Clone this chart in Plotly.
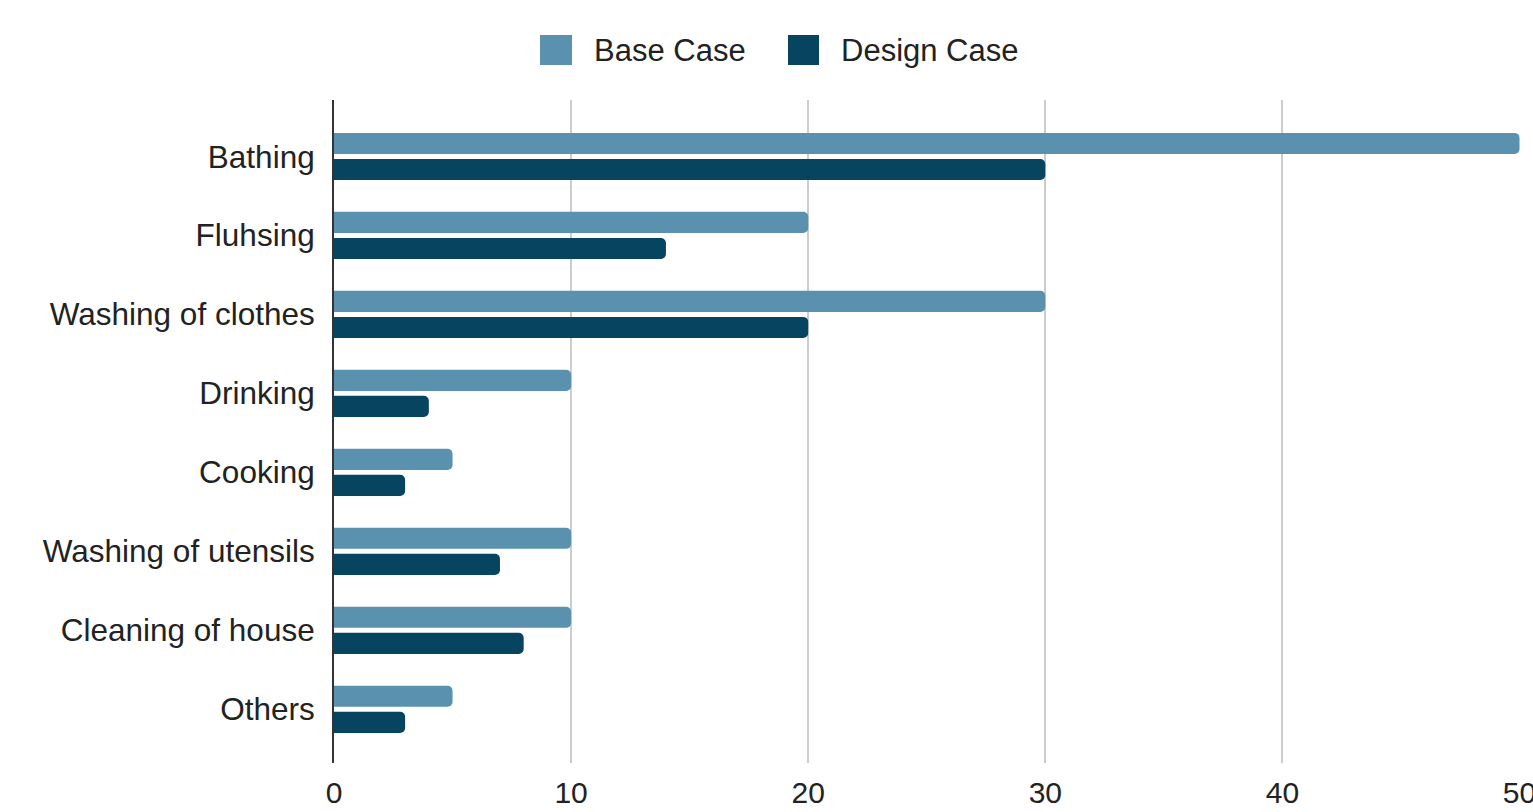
import plotly.graph_objects as go

categories = ["Bathing", "Fluhsing", "Washing of clothes", "Drinking", "Cooking",
              "Washing of utensils", "Cleaning of house", "Others"]
base_case = [50, 20, 30, 10, 5, 10, 10, 5]
design_case = [30, 14, 20, 4, 3, 7, 8, 3]
series_names = ["Base Case", "Design Case"]
x_ticks = [0, 10, 20, 30, 40, 50]

BASE_COLOR = "#5a91ae"
DESIGN_COLOR = "#07445f"
FONT = "Liberation Sans, Arial, sans-serif"
TEXT = "#222222"

W, H = 1533, 812
PL, PR, PT, PB = 334, 1520, 100, 763

fig = go.Figure()
fig.add_trace(go.Bar(y=categories, x=base_case, name=series_names[0], orientation="h",
                     marker=dict(color=BASE_COLOR, line=dict(width=0)), showlegend=False))
fig.add_trace(go.Bar(y=categories, x=design_case, name=series_names[1], orientation="h",
                     marker=dict(color=DESIGN_COLOR, line=dict(width=0)), showlegend=False))

# manual legend (large squares)
legend_items = [(540, 572, 592, series_names[0], BASE_COLOR),
                (788, 819, 839, series_names[1], DESIGN_COLOR)]


def px(x):
    return (x - PL) / (PR - PL)


def py(y):
    return (PB - y) / (PB - PT)


shapes = []
annotations = []
for x0, x1, tx, name, col in legend_items:
    shapes.append(dict(type="rect", xref="paper", yref="paper",
                       x0=px(x0), x1=px(x1), y0=py(65), y1=py(35),
                       fillcolor=col, line=dict(width=0), layer="above"))
    annotations.append(dict(xref="paper", yref="paper", x=px(tx), y=py(50),
                            xanchor="left", yanchor="middle", showarrow=False,
                            text=name, font=dict(family=FONT, size=31, color=TEXT)))

fig.update_layout(
    width=W, height=H,
    margin=dict(l=PL, r=W - PR, t=PT, b=H - PB, autoexpand=False),
    paper_bgcolor="white", plot_bgcolor="white",
    barmode="group", bargap=0.34, bargroupgap=0.19, barcornerradius=5,
    font=dict(family=FONT, size=31, color=TEXT),
    shapes=shapes, annotations=annotations,
    xaxis=dict(range=[0, 50.02], tickvals=x_ticks, showgrid=True, gridcolor="#cccccc",
               gridwidth=2, zeroline=False, showline=False, ticks="",
               ticklabeloverflow="allow", automargin=False,
               ticklabelstandoff=9, tickfont=dict(size=30, color=TEXT), fixedrange=True),
    yaxis=dict(categoryorder="array", categoryarray=categories,
               range=[7.68, -0.715], showgrid=False, zeroline=False, automargin=False,
               showline=True, linecolor="#333333", linewidth=2, ticks="",
               ticklabelstandoff=11, tickfont=dict(size=31.5, color=TEXT)),
)

fig.write_html("out.html")
